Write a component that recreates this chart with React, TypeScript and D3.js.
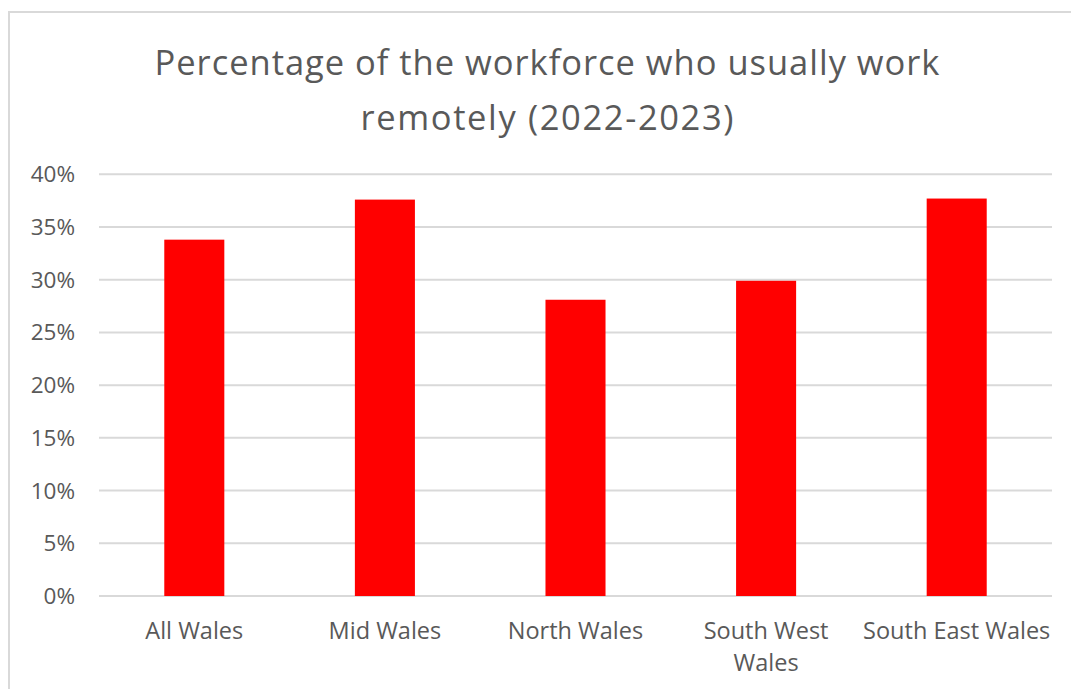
import React from "react";
import * as d3 from "d3";

const categories: string[][] = [["All Wales"], ["Mid Wales"], ["North Wales"], ["South West", "Wales"], ["South East Wales"]];
const values: number[] = [33.8, 37.6, 28.1, 29.9, 37.7];
const yTicks: number[] = [0, 5, 10, 15, 20, 25, 30, 35, 40];
const titleLines: string[] = ["Percentage of the workforce who usually work", "remotely (2022-2023)"];

const W = 1071, H = 689;
const plotLeft = 99, plotRight = 1052, plotTop = 174.3, plotBottom = 596;
const FONT = "Open Sans, sans-serif";
const TEXT = "#595959";

export default function App() {
  const x = d3.scaleBand<number>().domain(d3.range(categories.length)).range([plotLeft, plotRight]).paddingInner(0.685).paddingOuter(0.3425);
  const y = d3.scaleLinear().domain([0, 40]).range([plotBottom, plotTop]);
  const titleWidths = [785, 373];
  return (
    <svg width={W} height={H} style={{ position: "absolute", left: 0, top: 0, background: "#fff" }}>
      <rect x={9} y={12} width={W + 20} height={H + 20} fill="#fff" stroke="#d9d9d9" strokeWidth={2} />
      {titleLines.map((t, i) => (
        <text key={i} x={547} y={75 + i * 55} textAnchor="middle" fontFamily={FONT} fontSize={34.5} fill={TEXT}
          textLength={titleWidths[i]} lengthAdjust="spacing">{t}</text>
      ))}
      {yTicks.map((t) => (
        <g key={t}>
          <line x1={plotLeft} x2={plotRight} y1={y(t)} y2={y(t)} stroke="#d9d9d9" strokeWidth={2} />
          <text x={75} y={y(t) + 8} textAnchor="end" fontFamily={FONT} fontSize={22.5} fill={TEXT}>{t}%</text>
        </g>
      ))}
      {values.map((v, i) => (
        <rect key={i} x={x(i)} y={y(v)} width={x.bandwidth()} height={y(0) - y(v)} fill="#ff0000" />
      ))}
      {categories.map((lines, i) => (
        <text key={i} x={(x(i) as number) + x.bandwidth() / 2} y={639} textAnchor="middle" fontFamily={FONT} fontSize={23.5} fill={TEXT}>
          {lines.map((l, j) => (
            <tspan key={j} x={(x(i) as number) + x.bandwidth() / 2} dy={j === 0 ? 0 : 32}>{l}</tspan>
          ))}
        </text>
      ))}
    </svg>
  );
}
